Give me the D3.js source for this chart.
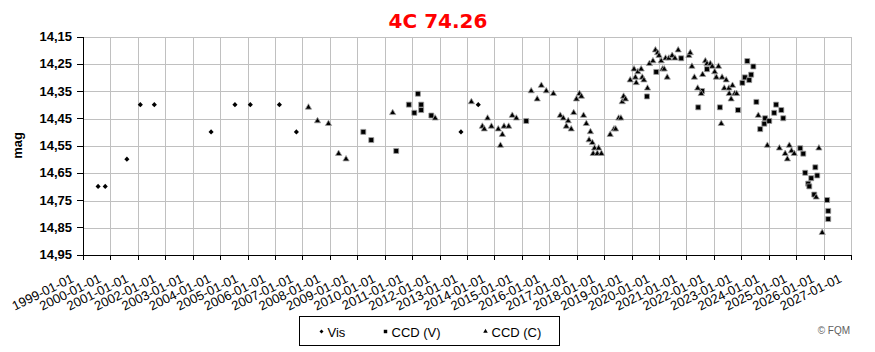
<!DOCTYPE html>
<html>
<head>
<meta charset="utf-8">
<script src="https://cdn.jsdelivr.net/npm/d3@7"></script>
<style>
  body { margin: 0; background: #fff; }
  svg { display: block; font-family: Arial, "Liberation Sans", sans-serif; }
  .grid line { stroke: #c0c0c0; stroke-width: 1; shape-rendering: crispEdges; }
  .axis path, .axis line { stroke: #000; shape-rendering: crispEdges; }
  .axis--y text { font-size: 13px; font-weight: bold; fill: #000; }
  .axis--x text { font-size: 13px; fill: #000; }
</style>
</head>
<body>
<svg></svg>
<script>
// ticks
const yTicks = [14.15, 14.25, 14.35, 14.45, 14.55, 14.65, 14.75, 14.85, 14.95];
const xTickLabels = ["1999-01-01", "2000-01-01", "2001-01-01", "2002-01-01", "2003-01-01",
  "2004-01-01", "2005-01-01", "2006-01-01", "2007-01-01", "2008-01-01", "2009-01-01",
  "2010-01-01", "2011-01-01", "2012-01-01", "2013-01-01", "2014-01-01", "2015-01-01",
  "2016-01-01", "2017-01-01", "2018-01-01", "2019-01-01", "2020-01-01", "2021-01-01",
  "2022-01-01", "2023-01-01", "2024-01-01", "2025-01-01", "2026-01-01", "2027-01-01"];

// observations: [decimal year, magnitude]
const visData = [
  [1999.55, 14.70], [1999.81, 14.70], [2000.60, 14.60], [2001.09, 14.40], [2001.60, 14.40],
  [2003.67, 14.50], [2004.54, 14.40], [2005.10, 14.40], [2006.16, 14.40], [2006.78, 14.50],
  [2012.78, 14.50], [2013.41, 14.40]
];

const ccdVData = [
  [2009.22, 14.50], [2009.51, 14.53], [2010.42, 14.57], [2010.88, 14.40], [2011.08, 14.43],
  [2011.21, 14.36], [2011.33, 14.40], [2011.33, 14.42], [2011.70, 14.44], [2015.16, 14.46],
  [2019.56, 14.37], [2019.90, 14.28], [2020.81, 14.23], [2021.43, 14.41], [2021.57, 14.35],
  [2021.75, 14.27], [2022.22, 14.41], [2022.88, 14.42], [2023.04, 14.32], [2023.13, 14.30],
  [2023.22, 14.24], [2023.29, 14.31], [2023.36, 14.29], [2023.44, 14.26], [2023.55, 14.39],
  [2023.69, 14.49], [2023.84, 14.47], [2023.87, 14.45], [2024.02, 14.46], [2024.20, 14.43],
  [2024.27, 14.40], [2024.46, 14.42], [2024.53, 14.45], [2025.15, 14.56], [2025.26, 14.58],
  [2025.33, 14.65], [2025.44, 14.69], [2025.48, 14.70], [2025.55, 14.67], [2025.66, 14.73],
  [2025.70, 14.63], [2025.77, 14.66], [2026.13, 14.75], [2026.17, 14.79], [2026.17, 14.82]
];

const ccdCData = [
  [2007.22, 14.41], [2007.55, 14.46], [2007.95, 14.47], [2008.32, 14.58], [2008.59, 14.60],
  [2010.29, 14.43], [2011.84, 14.45], [2013.16, 14.39], [2013.56, 14.48], [2013.63, 14.49],
  [2013.75, 14.45], [2013.89, 14.48], [2014.14, 14.49], [2014.22, 14.55], [2014.29, 14.51],
  [2014.35, 14.48], [2014.52, 14.48], [2014.65, 14.44], [2014.80, 14.45], [2015.34, 14.35],
  [2015.56, 14.38], [2015.71, 14.33], [2015.89, 14.35], [2016.15, 14.36], [2016.40, 14.44],
  [2016.51, 14.45], [2016.62, 14.48], [2016.69, 14.46], [2016.80, 14.49], [2016.89, 14.43],
  [2016.99, 14.38], [2017.10, 14.36], [2017.17, 14.37], [2017.25, 14.44], [2017.35, 14.47],
  [2017.45, 14.53], [2017.50, 14.50], [2017.57, 14.54], [2017.60, 14.58], [2017.65, 14.56],
  [2017.75, 14.58], [2017.80, 14.56], [2017.90, 14.58], [2018.22, 14.51], [2018.36, 14.49],
  [2018.42, 14.49], [2018.53, 14.45], [2018.61, 14.45], [2018.66, 14.39], [2018.71, 14.37],
  [2018.78, 14.38], [2018.95, 14.31], [2019.09, 14.27], [2019.14, 14.30], [2019.17, 14.32],
  [2019.23, 14.28], [2019.35, 14.27], [2019.39, 14.30], [2019.45, 14.31], [2019.58, 14.34],
  [2019.65, 14.25], [2019.78, 14.24], [2019.87, 14.20], [2019.95, 14.21], [2020.00, 14.22],
  [2020.08, 14.24], [2020.13, 14.27], [2020.19, 14.27], [2020.24, 14.23], [2020.30, 14.30],
  [2020.36, 14.23], [2020.48, 14.22], [2020.58, 14.23], [2020.70, 14.20], [2021.09, 14.22],
  [2021.14, 14.21], [2021.20, 14.26], [2021.29, 14.30], [2021.41, 14.34], [2021.54, 14.36],
  [2021.59, 14.29], [2021.69, 14.24], [2021.75, 14.25], [2021.87, 14.25], [2021.94, 14.26],
  [2022.03, 14.28], [2022.09, 14.30], [2022.17, 14.26], [2022.27, 14.47], [2022.30, 14.30],
  [2022.38, 14.34], [2022.45, 14.31], [2022.55, 14.34], [2022.56, 14.36], [2022.63, 14.38],
  [2022.68, 14.33], [2022.76, 14.36], [2022.83, 14.36], [2023.62, 14.44], [2023.95, 14.55],
  [2024.39, 14.56], [2024.60, 14.58], [2024.68, 14.60], [2024.75, 14.55], [2024.83, 14.57],
  [2024.93, 14.58], [2025.73, 14.74], [2025.83, 14.56], [2025.95, 14.87]
];

const svgWidth = 875;
const svgHeight = 352;

const svg = d3.select("svg")
    .attr("width", svgWidth)
    .attr("height", svgHeight);

const margin = {top: 36.5, right: 24, bottom: 97.5, left: 83};
const width = svgWidth - margin.left - margin.right;
const height = svgHeight - margin.top - margin.bottom;

const years = xTickLabels.map(s => +s.slice(0, 4));

const x = d3.scaleLinear()
    .domain([years[0], years[years.length - 1]])
    .range([0, width]);

// magnitudes: brighter at top
const y = d3.scaleLinear()
    .domain([yTicks[0], yTicks[yTicks.length - 1]])
    .range([0, height]);

const g = svg.append("g")
    .attr("transform", "translate(" + margin.left + "," + margin.top + ")");

// gridlines
g.append("g")
    .attr("class", "grid")
    .selectAll("line.v")
    .data(years)
    .enter().append("line")
    .attr("x1", d => Math.round(x(d)) + 0.5)
    .attr("x2", d => Math.round(x(d)) + 0.5)
    .attr("y1", 0)
    .attr("y2", height);

g.append("g")
    .attr("class", "grid")
    .selectAll("line.h")
    .data(yTicks)
    .enter().append("line")
    .attr("x1", 0)
    .attr("x2", width)
    .attr("y1", d => Math.round(y(d)) + 0.5)
    .attr("y2", d => Math.round(y(d)) + 0.5);

// x-axis
const xAxis = g.append("g")
    .attr("class", "axis axis--x")
    .attr("transform", "translate(0," + height + ")")
    .call(d3.axisBottom(x)
        .tickValues(years)
        .tickFormat((d, i) => xTickLabels[i])
        .tickSize(5)
        .tickSizeOuter(0));

xAxis.selectAll("text")
    .attr("text-anchor", "end")
    .attr("dy", null)
    .attr("y", null)
    .attr("transform", "translate(-9,27) rotate(-26)");

// y-axis
g.append("g")
    .attr("class", "axis axis--y")
    .call(d3.axisLeft(y)
        .tickValues(yTicks)
        .tickFormat(d => d.toFixed(2).replace(".", ","))
        .tickSize(6)
        .tickPadding(5)
        .tickSizeOuter(0));

// y title
svg.append("text")
    .attr("transform", "translate(22," + (margin.top + height / 2) + ") rotate(-90)")
    .attr("text-anchor", "middle")
    .style("font-size", "13px")
    .style("font-weight", "bold")
    .text("mag");

// title
svg.append("text")
    .attr("x", 438)
    .attr("y", 28)
    .attr("text-anchor", "middle")
    .style("font-family", "'DejaVu Sans', Verdana, sans-serif")
    .style("font-size", "20px")
    .style("font-weight", "bold")
    .style("fill", "#ff0000")
    .text("4C 74.26");

// markers
const diamond = d3.symbol().type(d3.symbolSquare).size(13);
const square = d3.symbol().type(d3.symbolSquare).size(25);
const triangle = d3.symbol().type(d3.symbolTriangle).size(17);

g.selectAll(".vis")
    .data(visData)
    .enter().append("path")
    .attr("class", "vis")
    .attr("d", diamond)
    .attr("transform", d => "translate(" + x(d[0]) + "," + y(d[1]) + ") rotate(45)")
    .attr("fill", "#000");

g.selectAll(".ccdv")
    .data(ccdVData)
    .enter().append("path")
    .attr("class", "ccdv")
    .attr("d", square)
    .attr("transform", d => "translate(" + x(d[0]) + "," + y(d[1]) + ")")
    .attr("fill", "#000")
    .attr("stroke", "#a0a0a0")
    .attr("stroke-width", 0.8);

g.selectAll(".ccdc")
    .data(ccdCData)
    .enter().append("path")
    .attr("class", "ccdc")
    .attr("d", triangle)
    .attr("transform", d => "translate(" + x(d[0]) + "," + y(d[1]) + ")")
    .attr("fill", "#000")
    .attr("stroke", "#a0a0a0")
    .attr("stroke-width", 0.8);

// legend
const legend = svg.append("g").attr("transform", "translate(299.5,316.5)");
legend.append("rect")
    .attr("width", 260)
    .attr("height", 29)
    .attr("fill", "#fff")
    .attr("stroke", "#000");

const legendItems = [
    {label: "Vis", sym: d3.symbol().type(d3.symbolSquare).size(8), rot: 45, x: 22},
    {label: "CCD (V)", sym: d3.symbol().type(d3.symbolSquare).size(12), rot: 0, x: 86},
    {label: "CCD (C)", sym: d3.symbol().type(d3.symbolTriangle).size(9), rot: 0, x: 186}
];

const li = legend.selectAll(".li")
    .data(legendItems)
    .enter().append("g")
    .attr("transform", d => "translate(" + d.x + ",15)");

li.append("path")
    .attr("d", d => d.sym())
    .attr("transform", d => "rotate(" + d.rot + ")")
    .attr("fill", "#000");

li.append("text")
    .attr("x", 6)
    .attr("y", 5)
    .style("font-size", "13px")
    .text(d => d.label);

// credit
svg.append("text")
    .attr("x", 850)
    .attr("y", 334)
    .attr("text-anchor", "end")
    .style("font-size", "10px")
    .style("fill", "#606060")
    .text("\u00a9 FQM");
</script>
</body>
</html>
